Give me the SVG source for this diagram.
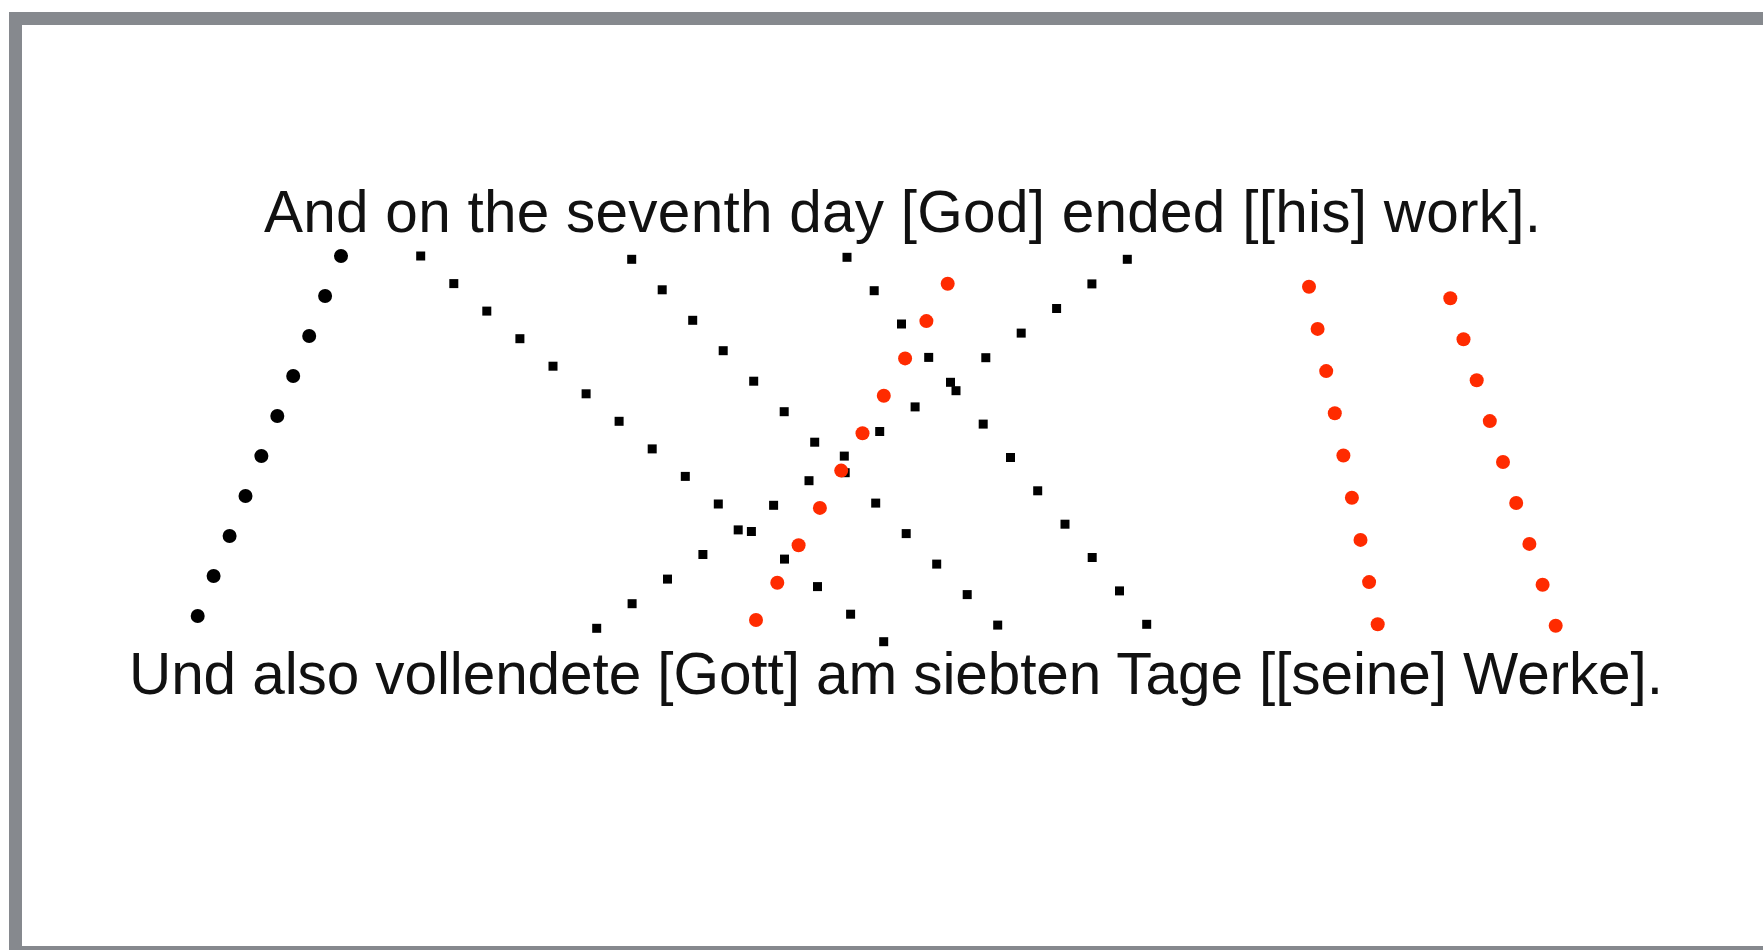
<svg xmlns="http://www.w3.org/2000/svg" width="1763" height="950" viewBox="0 0 1763 950">
<style>
.txt{font-family:"Liberation Sans",Arial,Helvetica,sans-serif;font-size:58.5px;fill:#111}
.bd{fill:#000}
.sq{fill:#000}
.rd{fill:#ff2b00}
</style>
<rect width="1763" height="950" fill="#fff"/>
<rect id="frame" x="15.5" y="18.5" width="2000" height="934" fill="#fff" stroke="#86898e" stroke-width="13"/>
<g id="sentence-en"><text class="txt" x="264" y="231.5" textLength="1277">And on the seventh day [God] ended [[his] work].</text></g>
<g id="sentence-de"><text class="txt" x="129" y="694" textLength="1534">Und also vollendete [Gott] am siebten Tage [[seine] Werke].</text></g>
<g id="connectors">
<g id="and-und">
<circle class="bd" cx="341" cy="256" r="7"/><circle class="bd" cx="325.1" cy="296" r="7"/><circle class="bd" cx="309.2" cy="336" r="7"/><circle class="bd" cx="293.2" cy="376" r="7"/><circle class="bd" cx="277.3" cy="416" r="7"/><circle class="bd" cx="261.4" cy="456" r="7"/><circle class="bd" cx="245.5" cy="496" r="7"/><circle class="bd" cx="229.6" cy="536" r="7"/><circle class="bd" cx="213.6" cy="576" r="7"/><circle class="bd" cx="197.7" cy="616" r="7"/>
</g>
<g id="on-am">
<rect class="sq" x="416.2" y="251.5" width="9" height="9"/><rect class="sq" x="449.3" y="279.1" width="9" height="9"/><rect class="sq" x="482.3" y="306.6" width="9" height="9"/><rect class="sq" x="515.4" y="334.2" width="9" height="9"/><rect class="sq" x="548.5" y="361.7" width="9" height="9"/><rect class="sq" x="581.6" y="389.3" width="9" height="9"/><rect class="sq" x="614.6" y="416.8" width="9" height="9"/><rect class="sq" x="647.7" y="444.4" width="9" height="9"/><rect class="sq" x="680.8" y="471.9" width="9" height="9"/><rect class="sq" x="713.8" y="499.5" width="9" height="9"/><rect class="sq" x="746.9" y="527" width="9" height="9"/><rect class="sq" x="780" y="554.6" width="9" height="9"/><rect class="sq" x="813" y="582.1" width="9" height="9"/><rect class="sq" x="846.1" y="609.7" width="9" height="9"/><rect class="sq" x="879.2" y="637.2" width="9" height="9"/>
</g>
<g id="seventh-siebten">
<rect class="sq" x="627.2" y="254.8" width="9" height="9"/><rect class="sq" x="657.7" y="285.3" width="9" height="9"/><rect class="sq" x="688.2" y="315.8" width="9" height="9"/><rect class="sq" x="718.7" y="346.2" width="9" height="9"/><rect class="sq" x="749.2" y="376.7" width="9" height="9"/><rect class="sq" x="779.7" y="407.2" width="9" height="9"/><rect class="sq" x="810.2" y="437.7" width="9" height="9"/><rect class="sq" x="840.7" y="468.2" width="9" height="9"/><rect class="sq" x="871.2" y="498.6" width="9" height="9"/><rect class="sq" x="901.7" y="529.1" width="9" height="9"/><rect class="sq" x="932.2" y="559.6" width="9" height="9"/><rect class="sq" x="962.7" y="590.1" width="9" height="9"/><rect class="sq" x="993.2" y="620.6" width="9" height="9"/>
</g>
<g id="day-tage">
<rect class="sq" x="842.5" y="252.8" width="9" height="9"/><rect class="sq" x="869.7" y="286.2" width="9" height="9"/><rect class="sq" x="897" y="319.5" width="9" height="9"/><rect class="sq" x="924.2" y="352.9" width="9" height="9"/><rect class="sq" x="951.5" y="386.2" width="9" height="9"/><rect class="sq" x="978.7" y="419.6" width="9" height="9"/><rect class="sq" x="1006" y="453" width="9" height="9"/><rect class="sq" x="1033.2" y="486.3" width="9" height="9"/><rect class="sq" x="1060.5" y="519.7" width="9" height="9"/><rect class="sq" x="1087.7" y="553" width="9" height="9"/><rect class="sq" x="1115" y="586.4" width="9" height="9"/><rect class="sq" x="1142.2" y="619.8" width="9" height="9"/>
</g>
<g id="ended-vollendete">
<rect class="sq" x="1122.8" y="254.8" width="9" height="9"/><rect class="sq" x="1087.4" y="279.4" width="9" height="9"/><rect class="sq" x="1052.1" y="304" width="9" height="9"/><rect class="sq" x="1016.7" y="328.6" width="9" height="9"/><rect class="sq" x="981.3" y="353.2" width="9" height="9"/><rect class="sq" x="946" y="377.8" width="9" height="9"/><rect class="sq" x="910.6" y="402.4" width="9" height="9"/><rect class="sq" x="875.2" y="427" width="9" height="9"/><rect class="sq" x="839.8" y="451.6" width="9" height="9"/><rect class="sq" x="804.5" y="476.2" width="9" height="9"/><rect class="sq" x="769.1" y="500.8" width="9" height="9"/><rect class="sq" x="733.7" y="525.4" width="9" height="9"/><rect class="sq" x="698.4" y="550" width="9" height="9"/><rect class="sq" x="663" y="574.6" width="9" height="9"/><rect class="sq" x="627.6" y="599.2" width="9" height="9"/><rect class="sq" x="592.2" y="623.8" width="9" height="9"/>
</g>
<g id="god-gott">
<circle class="rd" cx="947.7" cy="283.7" r="7"/><circle class="rd" cx="926.4" cy="321.1" r="7"/><circle class="rd" cx="905.1" cy="358.4" r="7"/><circle class="rd" cx="883.8" cy="395.8" r="7"/><circle class="rd" cx="862.5" cy="433.2" r="7"/><circle class="rd" cx="841.2" cy="470.6" r="7"/><circle class="rd" cx="819.9" cy="507.9" r="7"/><circle class="rd" cx="798.6" cy="545.3" r="7"/><circle class="rd" cx="777.3" cy="582.7" r="7"/><circle class="rd" cx="756" cy="620" r="7"/>
</g>
<g id="his-seine">
<circle class="rd" cx="1309" cy="286.7" r="7"/><circle class="rd" cx="1317.6" cy="328.9" r="7"/><circle class="rd" cx="1326.2" cy="371.1" r="7"/><circle class="rd" cx="1334.8" cy="413.3" r="7"/><circle class="rd" cx="1343.4" cy="455.5" r="7"/><circle class="rd" cx="1351.9" cy="497.7" r="7"/><circle class="rd" cx="1360.5" cy="539.9" r="7"/><circle class="rd" cx="1369.1" cy="582.1" r="7"/><circle class="rd" cx="1377.7" cy="624.3" r="7"/>
</g>
<g id="work-werke">
<circle class="rd" cx="1450.3" cy="298.3" r="7"/><circle class="rd" cx="1463.5" cy="339.2" r="7"/><circle class="rd" cx="1476.7" cy="380.2" r="7"/><circle class="rd" cx="1489.8" cy="421.1" r="7"/><circle class="rd" cx="1503" cy="462" r="7"/><circle class="rd" cx="1516.2" cy="503" r="7"/><circle class="rd" cx="1529.4" cy="543.9" r="7"/><circle class="rd" cx="1542.6" cy="584.8" r="7"/><circle class="rd" cx="1555.7" cy="625.7" r="7"/>
</g>
</g>
</svg>
